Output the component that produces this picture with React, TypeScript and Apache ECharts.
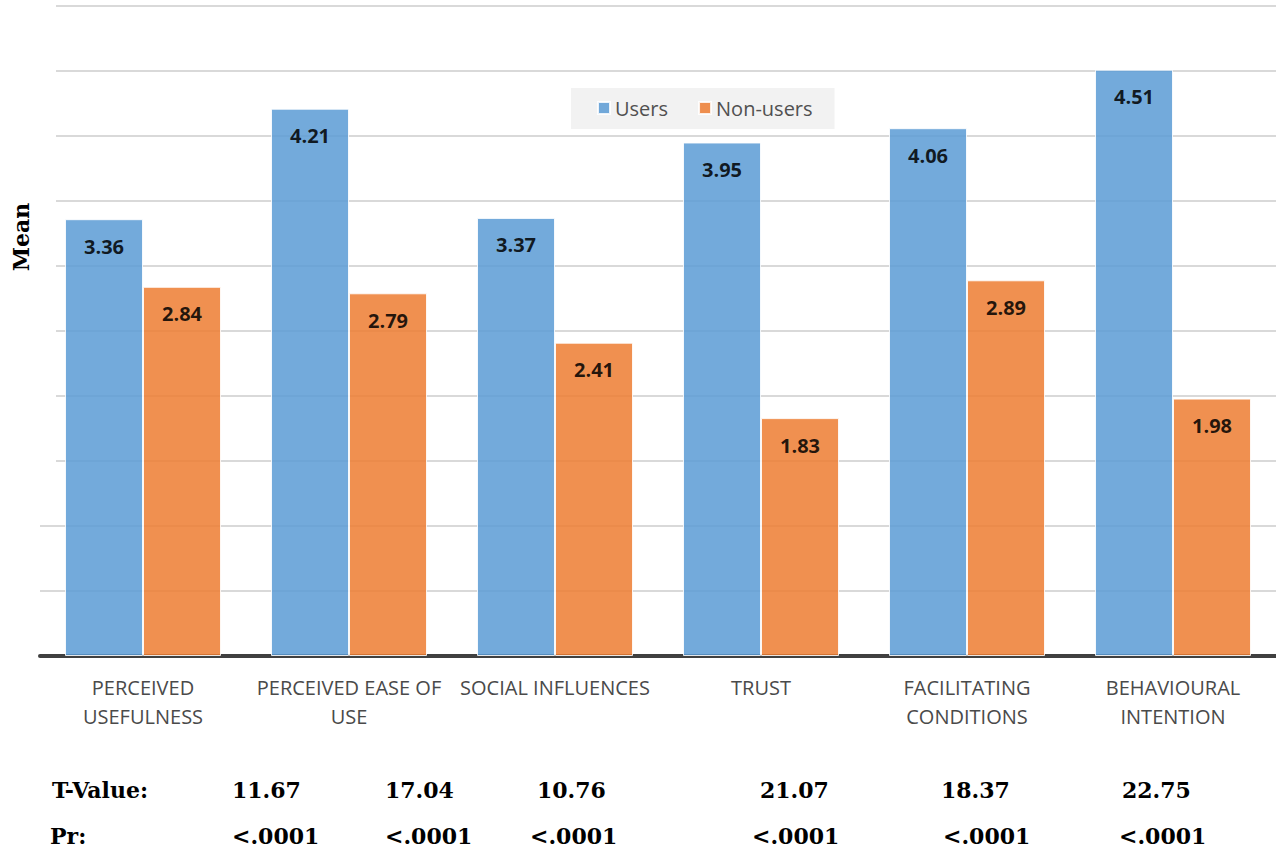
import React, { useEffect, useRef } from "react";
import * as echarts from "echarts";

const categories = [
  "PERCEIVED\nUSEFULNESS",
  "PERCEIVED EASE OF\nUSE",
  "SOCIAL INFLUENCES",
  "TRUST",
  "FACILITATING\nCONDITIONS",
  "BEHAVIOURAL\nINTENTION",
];
const users = [3.36, 4.21, 3.37, 3.95, 4.06, 4.51];
const nonUsers = [2.84, 2.79, 2.41, 1.83, 2.89, 1.98];
const tValues = ["11.67", "17.04", "10.76", "21.07", "18.37", "22.75"];
const prValues = ["<.0001", "<.0001", "<.0001", "<.0001", "<.0001", "<.0001"];

const tX = [232, 385, 537, 760, 941, 1122];
const prX = [232, 385, 530, 752, 943, 1119];

const serifBold = {
  fontFamily: "'DejaVu Serif', serif",
  fontWeight: "bold" as const,
  fontSize: 22,
  fill: "#000",
};

export default function App() {
  const ref = useRef<HTMLDivElement>(null);
  useEffect(() => {
    if (!ref.current) return;
    const chart = echarts.init(ref.current, undefined, { renderer: "svg" });
    const labelStyle = {
      show: true,
      position: "insideTop" as const,
      distance: 17,
      color: "#000",
      fontFamily: "'Open Sans', sans-serif",
      fontWeight: "bold" as const,
      fontSize: 20,
    };
    const graphics: any[] = [
      {
        type: "rect",
        shape: { x: 38, y: 0, width: 18, height: 500 },
        style: { fill: "#fff" },
        z: 50,
      },
      {
        type: "text",
        x: 21,
        y: 237,
        z: 60,
        rotation: Math.PI / 2,
        style: { ...serifBold, text: "Mean", textAlign: "center", textVerticalAlign: "middle" },
      },
      {
        type: "text",
        x: 52,
        y: 790,
        style: { ...serifBold, text: "T-Value:", textVerticalAlign: "middle" },
      },
      {
        type: "text",
        x: 50,
        y: 836,
        style: { ...serifBold, text: "Pr:", textVerticalAlign: "middle" },
      },
    ];
    tValues.forEach((t, i) =>
      graphics.push({
        type: "text",
        x: tX[i],
        y: 790,
        style: { ...serifBold, text: t, textVerticalAlign: "middle" },
      })
    );
    prValues.forEach((p, i) =>
      graphics.push({
        type: "text",
        x: prX[i],
        y: 836,
        style: { ...serifBold, text: p, textVerticalAlign: "middle" },
      })
    );
    chart.setOption({
      animation: false,
      grid: { left: 40, right: 0, top: 6, bottom: 196 },
      legend: {
        left: 571,
        top: 88,
        padding: [10, 22, 11, 26],
        backgroundColor: "#f2f2f2",
        itemWidth: 12,
        itemHeight: 12,
        itemGap: 30,
        icon: "rect",
        textStyle: { fontFamily: "'Open Sans', sans-serif", fontSize: 20, color: "#505050" },
        data: ["Users", "Non-users"],
      },
      xAxis: {
        type: "category",
        data: categories,
        axisLine: { lineStyle: { color: "#404040", width: 4 } },
        axisTick: { show: false },
        axisLabel: {
          interval: 0,
          margin: 17,
          color: "#4a4a4a",
          fontFamily: "'Open Sans', sans-serif",
          fontSize: 20,
          lineHeight: 29,
        },
      },
      yAxis: {
        type: "value",
        min: 0,
        max: 5,
        interval: 0.5,
        axisLabel: { show: false },
        axisLine: { show: false },
        axisTick: { show: false },
        splitLine: { lineStyle: { color: "#d9d9d9", width: 2 } },
      },
      series: [
        {
          name: "Users",
          type: "bar",
          data: users,
          barWidth: 78,
          barGap: "0%",
          itemStyle: { color: "#5B9BD5", opacity: 0.85, borderColor: "#ffffff", borderWidth: 1 },
          label: labelStyle,
        },
        {
          name: "Non-users",
          type: "bar",
          data: nonUsers,
          barWidth: 78,
          itemStyle: { color: "#ED7D31", opacity: 0.85, borderColor: "#ffffff", borderWidth: 1 },
          label: labelStyle,
        },
      ],
      graphic: graphics,
    });
    return () => chart.dispose();
  }, []);
  return (
    <div
      ref={ref}
      style={{ position: "absolute", left: 0, top: 0, width: 1276, height: 852, background: "#fff" }}
    />
  );
}
